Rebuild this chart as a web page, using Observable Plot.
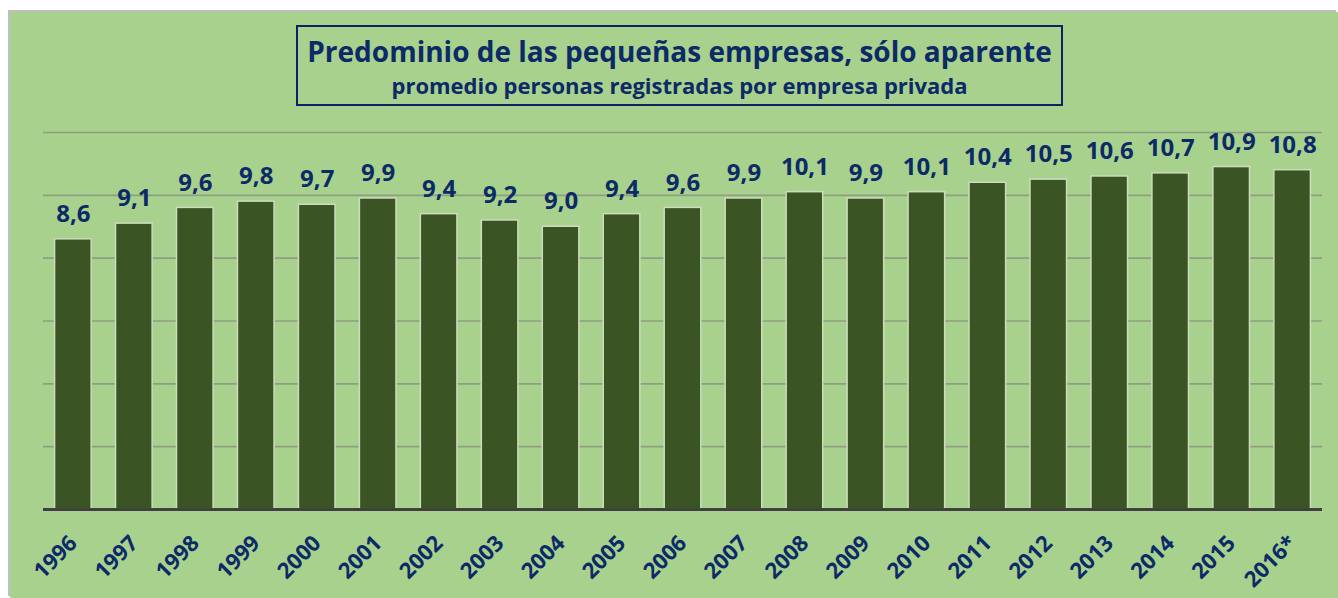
<!DOCTYPE html>
<html>
<head>
<meta charset="utf-8">
<script src="https://cdn.jsdelivr.net/npm/d3@7"></script>
<script src="https://cdn.jsdelivr.net/npm/@observablehq/plot@0.6"></script>
<style>
  html, body { margin: 0; padding: 0; background: #ffffff; width: 1338px; height: 598px; overflow: hidden; }
  #panel { position: absolute; left: 10px; top: 12px; width: 1328px; height: 586px; background: #A9D18E; box-shadow: -2px -2px 0 #bfbfbf; }
  #titlebox { position: absolute; left: 286px; top: 13px; width: 763px; height: 77px; border: 2px solid #0b2461; box-sizing: content-box; text-align: center; font-family: "Open Sans", sans-serif; color: #0b2a66; font-weight: 700; }
  #title { font-size: 28px; line-height: 34px; margin-top: 7px; white-space: nowrap; }
  #subtitle { font-size: 22px; line-height: 26px; margin-top: 4px; white-space: nowrap; }
  #chart { position: absolute; left: 0; top: 96px; }
</style>
</head>
<body>
<div id="panel">
  <div id="titlebox">
    <div id="title">Predominio de las pequeñas empresas, sólo aparente</div>
    <div id="subtitle">promedio personas registradas por empresa privada</div>
  </div>
  <div id="chart"></div>
</div>
<script>
const years = ["1996","1997","1998","1999","2000","2001","2002","2003","2004","2005","2006","2007","2008","2009","2010","2011","2012","2013","2014","2015","2016*"];
const values = [8.6, 9.1, 9.6, 9.8, 9.7, 9.9, 9.4, 9.2, 9.0, 9.4, 9.6, 9.9, 10.1, 9.9, 10.1, 10.4, 10.5, 10.6, 10.7, 10.9, 10.8];
const gridTicks = [2, 4, 6, 8, 10, 12];

const data = years.map((y, i) => ({year: y, value: values[i]}));
const fmt = d => d.toFixed(1).replace(".", ",");
const navy = "#0b2a66";

const chart = Plot.plot({
  width: 1328,
  height: 490,
  marginLeft: 33,
  marginRight: 16,
  marginTop: 24,
  marginBottom: 89,
  style: {background: "transparent", fontFamily: "Open Sans, sans-serif"},
  x: {domain: years, paddingInner: 0.4, paddingOuter: 0.19, round: false, axis: null},
  y: {domain: [0, 12], axis: null},
  marks: [
    Plot.ruleY(gridTicks, {stroke: "#8e9f80", strokeWidth: 1.6}),
    Plot.barY(data, {x: "year", y: "value", fill: "#3A5423", stroke: "#cddbbf", strokeWidth: 1.5}),
    Plot.ruleY([0], {stroke: "#404040", strokeWidth: 3}),
    Plot.text(data, {x: "year", y: "value", text: d => fmt(d.value), dy: -25, fill: navy, fontSize: 24, fontWeight: 700}),
    Plot.text(years, {x: d => d, frameAnchor: "bottom", text: d => d, rotate: -45, textAnchor: "end", lineAnchor: "middle", dy: 30, fill: navy, fontSize: 22, fontWeight: 700})
  ]
});
document.getElementById("chart").appendChild(chart);
</script>
</body>
</html>
